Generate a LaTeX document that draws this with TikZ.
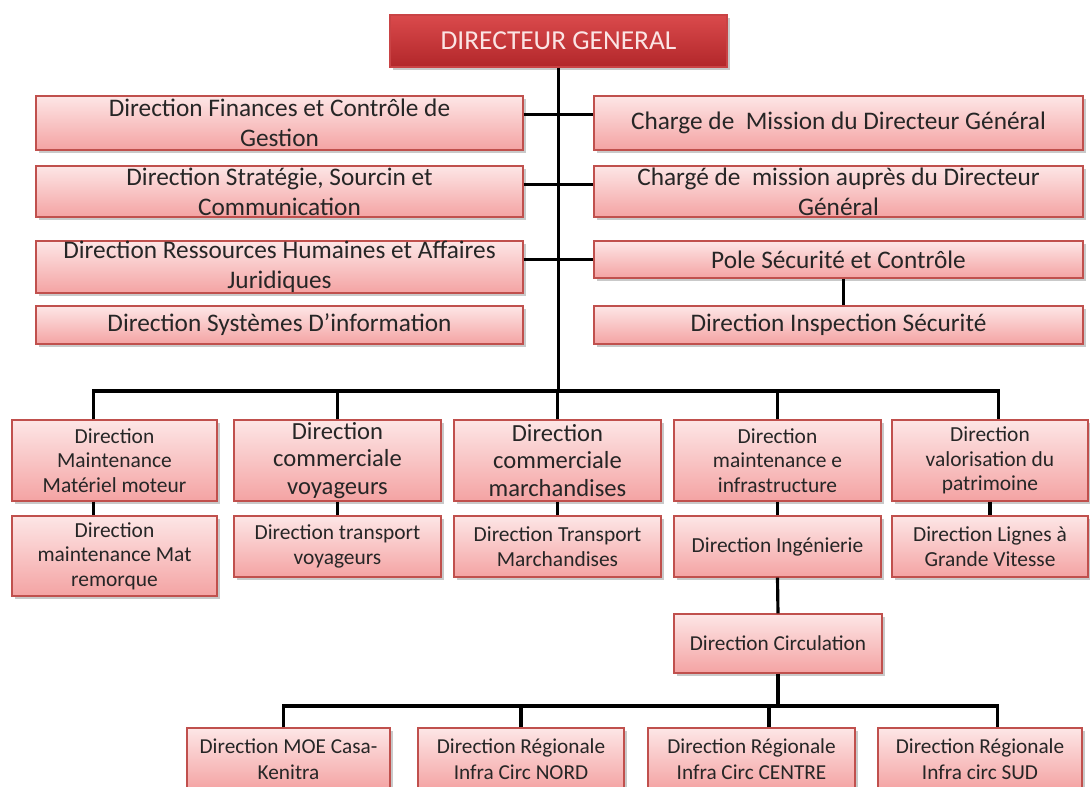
\documentclass[tikz,border=0pt]{standalone}
\usepackage{fontspec}
\setmainfont{Carlito}
\usetikzlibrary{shadows}

\definecolor{boxline}{HTML}{C0504D}
\definecolor{boxtop}{HTML}{FDE6E6}
\definecolor{boxbot}{HTML}{F4A3A3}
\definecolor{dgtop}{HTML}{DA4A4C}
\definecolor{dgbot}{HTML}{B2272A}
\definecolor{dgline}{HTML}{C94345}
\definecolor{dgtext}{HTML}{FBE4E4}

\newlength\pxu
\setlength\pxu{0.02cm}

\tikzset{
  box/.style={draw=boxline, line width=0.7pt, top color=boxtop, bottom color=boxbot,
    text=black!85, align=center, inner sep=0pt,
    drop shadow={shadow xshift=1.5pt, shadow yshift=-1.5pt, opacity=0.35, fill=black!60}},
  dgbox/.style={box, draw=dgline, top color=dgtop, bottom color=dgbot, text=dgtext,
    font=\fontsize{15.6}{18}\selectfont},
  boxlarge/.style={font=\fontsize{14.4}{17}\selectfont},
  boxmid/.style={font=\fontsize{14}{15.5}\selectfont},
  boxsmall/.style={font=\fontsize{12.2}{14}\selectfont},
  boxtiny/.style={font=\fontsize{12.1}{14.5}\selectfont},
  link/.style={line width=1.8pt, black},
}

\begin{document}
\begin{tikzpicture}[x=0.02cm, y=-0.02cm]
\useasboundingbox (0,0) rectangle (1090,787);
\clip (0,0) rectangle (1090,787);
\fill[white] (0,0) rectangle (1090,787);

% direction generale
\node[dgbox, minimum width=337\pxu, minimum height=52\pxu] (dg) at (558.5,41) {DIRECTEUR GENERAL};

% colonne gauche
\node[box, boxlarge, minimum width=487\pxu, minimum height=54\pxu] (fin) at (279.5,123) {Direction Finances et Contrôle de\\Gestion};
\node[box, boxlarge, minimum width=487\pxu, minimum height=51\pxu] (strat) at (279.5,191.5) {Direction Stratégie, Sourcin et\\Communication};
\node[box, boxlarge, minimum width=487\pxu, minimum height=52\pxu] (rh) at (279.5,267) {Direction Ressources Humaines et Affaires\\Juridiques};
\node[box, boxlarge, minimum width=487\pxu, minimum height=38\pxu] (si) at (279.5,325) {Direction Systèmes D’information};

% colonne droite
\node[box, boxlarge, minimum width=489\pxu, minimum height=54\pxu] (cm1) at (838.5,123) {Charge de\ \ Mission du Directeur Général};
\node[box, boxlarge, minimum width=489\pxu, minimum height=51\pxu] (cm2) at (838.5,191.5) {Chargé de\ \ mission auprès du Directeur\\Général};
\node[box, boxlarge, minimum width=489\pxu, minimum height=37\pxu] (pole) at (838.5,259.5) {Pole Sécurité et Contrôle};
\node[box, boxlarge, minimum width=489\pxu, minimum height=38\pxu] (insp) at (838.5,325) {Direction Inspection Sécurité};

% directions operationnelles
\node[box, boxsmall, minimum width=205\pxu, minimum height=81\pxu] (mmm) at (114.5,460.5) {Direction\\Maintenance\\Matériel moteur};
\node[box, boxmid, minimum width=207\pxu, minimum height=81\pxu] (cv) at (337.5,460.5) {Direction\\commerciale\\voyageurs};
\node[box, boxmid, minimum width=207\pxu, minimum height=81\pxu] (cm) at (557.5,460.5) {Direction\\commerciale\\marchandises};
\node[box, boxsmall, minimum width=207\pxu, minimum height=81\pxu] (mi) at (777.5,460.5) {Direction\\maintenance e\\infrastructure};
\node[box, boxsmall, minimum width=196\pxu, minimum height=81\pxu] (vp) at (990,460.5) {Direction\\valorisation du\\patrimoine};

\node[box, boxsmall, minimum width=205\pxu, minimum height=80\pxu] (mmr) at (114.5,556) {Direction\\maintenance Mat\\remorque};
\node[box, boxsmall, minimum width=207\pxu, minimum height=61\pxu] (tv) at (337.5,546.5) {Direction transport\\voyageurs};
\node[box, boxsmall, minimum width=207\pxu, minimum height=61\pxu] (tm) at (557.5,546.5) {Direction Transport\\Marchandises};
\node[box, boxsmall, minimum width=207\pxu, minimum height=61\pxu] (ing) at (777.5,546.5) {Direction Ingénierie};
\node[box, boxsmall, minimum width=196\pxu, minimum height=61\pxu] (lgv) at (990,546.5) {Direction Lignes à\\Grande Vitesse};

\node[box, boxtiny, minimum width=208\pxu, minimum height=59\pxu] (circ) at (778,643.5) {Direction Circulation};

% directions regionales
\node[box, boxtiny, minimum width=203\pxu, minimum height=62\pxu] (moe) at (288.5,759) {Direction MOE Casa-\\Kenitra};
\node[box, boxtiny, minimum width=206\pxu, minimum height=62\pxu] (nord) at (521,759) {Direction Régionale\\Infra Circ NORD};
\node[box, boxtiny, minimum width=207\pxu, minimum height=62\pxu] (centre) at (751.5,759) {Direction Régionale\\Infra Circ CENTRE};
\node[box, boxtiny, minimum width=204\pxu, minimum height=62\pxu] (sud) at (980,759) {Direction Régionale\\Infra circ SUD};

% liaisons
\coordinate (bus) at (561,391);
\coordinate (bus2) at (778,706);
\draw[link] (dg.south) -- (dg.south |- bus);
\draw[link] ([yshift=5pt]fin.east) -- ([yshift=5pt]cm1.west);
\draw[link] ([yshift=4pt]strat.east) -- ([yshift=4pt]cm2.west);
\draw[link] (rh.east |- pole.west) -- (pole.west);
\draw[link] ([xshift=3pt]pole.south) -- ([xshift=3pt]insp.north);

\coordinate (d1) at ([xshift=-12pt]mmm.north);
\coordinate (d5) at ([xshift=5pt]vp.north);
\draw[link] (d1) -- (d1 |- bus) -- (d5 |- bus) -- (d5);
\foreach \n in {cv, cm, mi}
  \draw[link] (\n.north) -- (\n.north |- bus);
\draw[link] (d1 |- mmm.south) -- (d1 |- mmr.north);
\foreach \a/\b in {cv/tv, cm/tm, mi/ing, vp/lgv}
  \draw[link] (\a.south) -- (\b.north);
\draw[link] (ing.south) -- (circ.north);
\draw[link] (circ.south) -- (circ.south |- bus2);

\coordinate (e1) at ([xshift=-3pt]moe.north);
\coordinate (e3) at ([xshift=10pt]centre.north);
\coordinate (e4) at ([xshift=10pt]sud.north);
\draw[link] (e1) -- (e1 |- bus2) -- (e4 |- bus2) -- (e4);
\draw[link] (nord.north) -- (nord.north |- bus2);
\draw[link] (e3) -- (e3 |- bus2);
\end{tikzpicture}
\end{document}
